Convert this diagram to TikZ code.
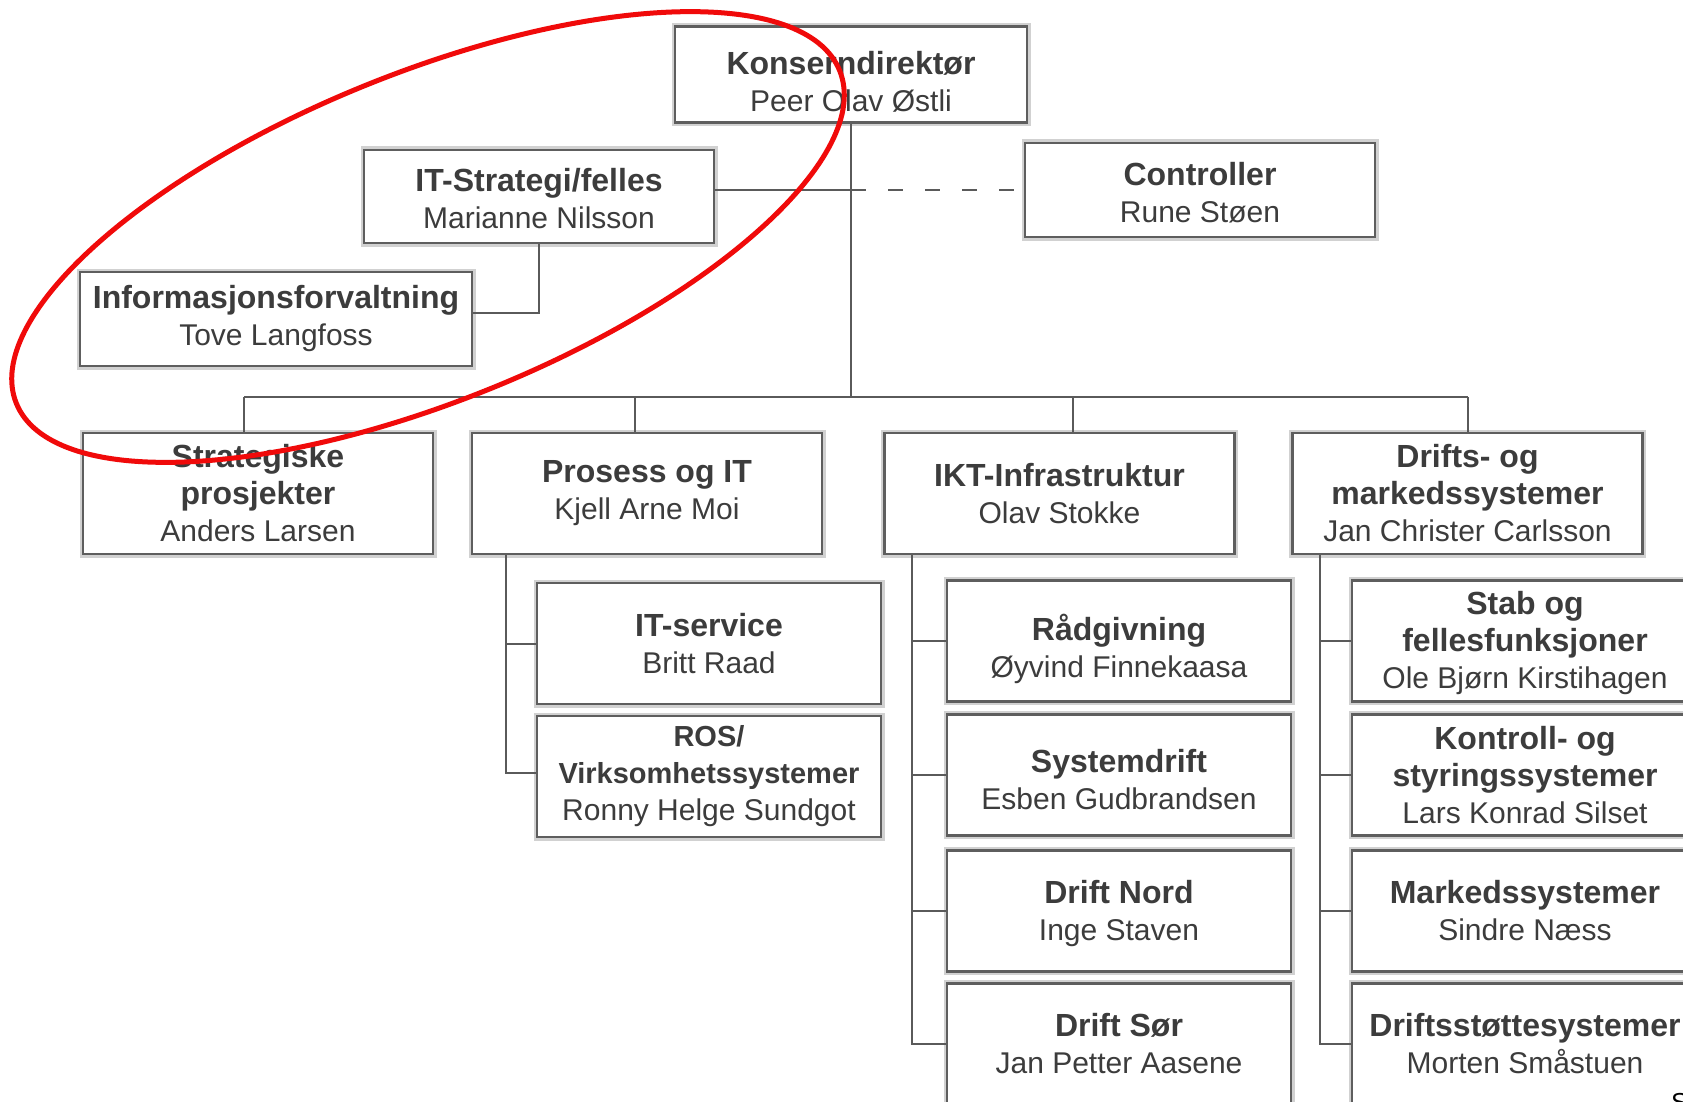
\documentclass[tikz,border=0pt]{standalone}
\usepackage{fontspec}
\setmainfont{Liberation Sans}
\definecolor{boxline}{HTML}{5E5E5E}
\definecolor{boxtext}{HTML}{3C3C3C}
\definecolor{linkgray}{HTML}{5A5A5A}
\definecolor{ringred}{HTML}{F00A0A}
\newcommand{\hd}[1]{{\fontsize{32}{37}\selectfont\bfseries #1}}
\newcommand{\hds}[1]{{\fontsize{29}{37}\selectfont\bfseries #1}}
\newcommand{\lowr}[1]{\rule{0pt}{#1}}

\begin{document}
\begin{tikzpicture}[x=1pt, y=-1pt,
  orgbox/.style={draw=boxline, line width=2.5pt, fill=white, text=boxtext, align=center,
    inner sep=0pt, minimum width=350pt, minimum height=121pt, font=\fontsize{30}{37}\selectfont,
    preaction={draw=black!18, line width=7pt}},
  link/.style={draw=linkgray, line width=2pt}]
\useasboundingbox[fill=white] (0,0) rectangle (1683,1102);
\clip (0,0) rectangle (1683,1102);

% top
\node[orgbox, minimum width=352pt, minimum height=96pt] (konsern) at (851,74.5) {\lowr{37pt}\hd{Konserndirektør}\\Peer Olav Østli};
\node[orgbox, minimum height=93pt] (itstrat) at (539,196.5) {\lowr{28pt}\hd{IT-Strategi/felles}\\Marianne Nilsson};
\node[orgbox, minimum height=94pt] (controller) at (1200,190) {\lowr{28pt}\hd{Controller}\\Rune Støen};
\node[orgbox, minimum width=392pt, minimum height=94pt] (infoforv) at (276,319) {\hd{Informasjonsforvaltning}\\Tove Langfoss};

% avdelinger
\node[orgbox] (strat) at (258,493.5) {\hd{Strategiske}\\\hd{prosjekter}\\Anders Larsen};
\node[orgbox] (prosess) at (647,493.5) {\hd{Prosess og IT}\\Kjell Arne Moi};
\node[orgbox] (ikt) at (1059.5,493.5) {\hd{IKT-Infrastruktur}\\Olav Stokke};
\node[orgbox] (drifts) at (1467.5,493.5) {\hd{Drifts- og}\\\hd{markedssystemer}\\Jan Christer Carlsson};

% seksjoner
\node[orgbox, minimum width=344pt] (itservice) at (709,643.5) {\hd{IT-service}\\Britt Raad};
\node[orgbox, minimum width=344pt] (ros) at (709,776.5) {\hds{ROS/}\\\hds{Virksomhetssystemer}\\Ronny Helge Sundgot};
\node[orgbox, minimum width=344pt] (raad) at (1119,641) {\lowr{42pt}\hd{Rådgivning}\\Øyvind Finnekaasa};
\node[orgbox, minimum width=344pt] (sysdrift) at (1119,775) {\lowr{32pt}\hd{Systemdrift}\\Esben Gudbrandsen};
\node[orgbox, minimum width=344pt] (nord) at (1119,911) {\lowr{29pt}\hd{Drift Nord}\\Inge Staven};
\node[orgbox, minimum width=344pt] (sor) at (1119,1044) {\hd{Drift Sør}\\Jan Petter Aasene};
\node[orgbox, minimum width=346pt] (stab) at (1525,641) {\lowr{28pt}\hd{Stab og}\\\hd{fellesfunksjoner}\\Ole Bjørn Kirstihagen};
\node[orgbox, minimum width=346pt] (kontroll) at (1525,775) {\hd{Kontroll- og}\\\hd{styringssystemer}\\Lars Konrad Silset};
\node[orgbox, minimum width=346pt] (markeds) at (1525,911) {\hd{Markedssystemer}\\Sindre Næss};
\node[orgbox, minimum width=346pt] (driftsst) at (1525,1044) {\hd{Driftsstøttesystemer}\\Morten Småstuen};

\node[anchor=north west, inner sep=0pt, font=\fontsize{26}{26}\selectfont] (pagemark) at (1671,1093) {S};

% linjer
\coordinate (bus) at (851,397);
\draw[link] (konsern.south) -- (konsern.south |- bus);
\draw[link] (itstrat.east |- controller.west) -- (konsern.south |- controller.west);
\draw[link, dash pattern=on 15pt off 22pt] (konsern.south |- controller.west) -- (controller.west);
\draw[link] (itstrat.south) |- ([yshift=6pt]infoforv.east);
\foreach \n/\dx in {strat/-14, prosess/-12, ikt/13, drifts/0}{
  \draw[link] ([xshift=\dx pt]\n.north) coordinate (\n-drop) -- (\n-drop |- bus);
}
\draw[link] (strat-drop |- bus) -- (drifts-drop |- bus);

\coordinate (prosess-spine) at ([xshift=35pt]prosess.south west);
\draw[link] (prosess-spine) |- ([yshift=4pt]ros.west);
\draw[link] (prosess-spine |- itservice.west) -- (itservice.west);
\foreach \boss/\last/\kids in {ikt/sor/{raad,sysdrift,nord,sor}, drifts/driftsst/{stab,kontroll,markeds,driftsst}}{
  \coordinate (\boss-spine) at ([xshift=29pt]\boss.south west);
  \draw[link] (\boss-spine) |- (\last.west);
  \foreach \k in \kids
    \draw[link] (\boss-spine |- \k.west) -- (\k.west);
}

% markering
\draw[ringred, line width=5pt, rotate around={22:(428,237)}] (428,237) ellipse [x radius=444, y radius=164];
\end{tikzpicture}
\end{document}
